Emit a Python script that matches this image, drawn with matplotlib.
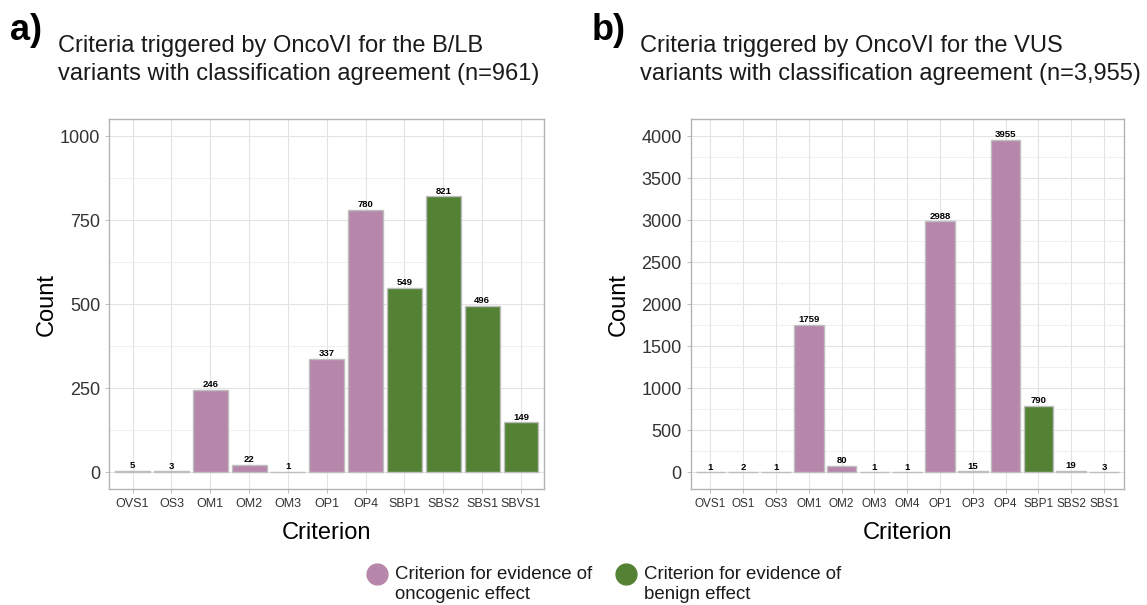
import matplotlib
matplotlib.use("Agg")
import matplotlib.pyplot as plt
from matplotlib.lines import Line2D
from matplotlib.ticker import MultipleLocator

plt.rcParams['font.family'] = ['Liberation Sans', 'DejaVu Sans']

# Panel a: B/LB variants
crit_a = ["OVS1", "OS3", "OM1", "OM2", "OM3", "OP1", "OP4",
          "SBP1", "SBS2", "SBS1", "SBVS1"]
count_a = [5, 3, 246, 22, 1, 337, 780, 549, 821, 496, 149]
kind_a = ["onc"] * 7 + ["ben"] * 4

# Panel b: VUS variants
crit_b = ["OVS1", "OS1", "OS3", "OM1", "OM2", "OM3", "OM4", "OP1", "OP3",
          "OP4", "SBP1", "SBS2", "SBS1"]
count_b = [1, 2, 1, 1759, 80, 1, 1, 2988, 15, 3955, 790, 19, 3]
kind_b = ["onc"] * 10 + ["ben"] * 3

colors = {"onc": "#B687AA", "ben": "#538234"}
legend_labels = {"onc": "Criterion for evidence of\noncogenic effect",
                 "ben": "Criterion for evidence of\nbenign effect"}

W, H = 1147, 605
fig = plt.figure(figsize=(W / 100, H / 100), dpi=100)


def px_axes(x0, y0, x1, y1):
    return fig.add_axes([x0 / W, 1 - y1 / H, (x1 - x0) / W, (y1 - y0) / H])


def draw_panel(ax, cats, vals, kinds, ymax, major, minor, xfs, ypad):
    x = list(range(len(cats)))
    ax.bar(x, vals, width=0.9, color=[colors[k] for k in kinds],
           edgecolor="#BEBEBE", linewidth=1.0, zorder=3)
    for xi, v in zip(x, vals):
        ax.annotate(str(v), (xi, v), xytext=(0, 0.5), textcoords="offset points",
                    ha="center", va="bottom", fontsize=6.8, fontweight="bold",
                    color="black", zorder=4)
    pad = ymax * 0.05
    ax.set_ylim(-pad, ymax + pad)
    ax.set_xlim(-0.6, len(cats) - 0.4)
    ax.set_xticks(x)
    ax.set_xticklabels(cats, fontsize=xfs, color="#333333")
    ax.yaxis.set_major_locator(MultipleLocator(major))
    ax.yaxis.set_minor_locator(MultipleLocator(minor))
    ax.xaxis.set_minor_locator(plt.NullLocator())
    ax.tick_params(axis="y", labelsize=13, colors="#B3B3B3", labelcolor="#333333",
                   length=3, width=0.6)
    ax.tick_params(axis="y", which="minor", length=0)
    ax.tick_params(axis="x", colors="#B3B3B3", labelcolor="#333333",
                   length=3, width=0.6, pad=3)
    ax.grid(True, which="major", color="#E3E3E3", linewidth=0.8, zorder=0)
    ax.grid(True, which="minor", axis="y", color="#EEEEEE", linewidth=0.6, zorder=0)
    ax.set_axisbelow(True)
    for s in ax.spines.values():
        s.set_color("#B3B3B3")
        s.set_linewidth(1.0)
    ax.set_xlabel("Criterion", fontsize=17, color="black", labelpad=9)
    ax.set_ylabel("Count", fontsize=17, color="black", labelpad=ypad)


ax_a = px_axes(109.3, 119.3, 544.3, 489.3)
draw_panel(ax_a, crit_a, count_a, kind_a, 1000, 250, 125, 9.0, 1.5)

ax_b = px_axes(690.7, 119.3, 1123.7, 489.3)
draw_panel(ax_b, crit_b, count_b, kind_b, 4000, 500, 250, 8.5, 8)

# Panel tags and titles
fig.text(10 / W, 1 - 30 / H, "a)", fontsize=26, fontweight="bold",
         ha="left", va="center")
fig.text(58 / W, 1 - 60 / H,
         "Criteria triggered by OncoVI for the B/LB\n"
         "variants with classification agreement (n=961)",
         fontsize=17, ha="left", va="center", linespacing=1.32, color="#1A1A1A")
fig.text(592 / W, 1 - 30 / H, "b)", fontsize=26, fontweight="bold",
         ha="left", va="center")
fig.text(640 / W, 1 - 60 / H,
         "Criteria triggered by OncoVI for the VUS\n"
         "variants with classification agreement (n=3,955)",
         fontsize=17, ha="left", va="center", linespacing=1.32, color="#1A1A1A")

# Shared legend at the bottom
for key, mx in (("onc", 377), ("ben", 626)):
    fig.add_artist(Line2D([mx / W], [1 - 574 / H], marker="o", markersize=15,
                          color=colors[key], linestyle="none",
                          transform=fig.transFigure))
    fig.text((mx + 18) / W, 1 - 566 / H, legend_labels[key], fontsize=13.4,
             ha="left", va="top", linespacing=1.25, color="#1A1A1A")

fig.savefig("out.png", dpi=100, facecolor="white")
